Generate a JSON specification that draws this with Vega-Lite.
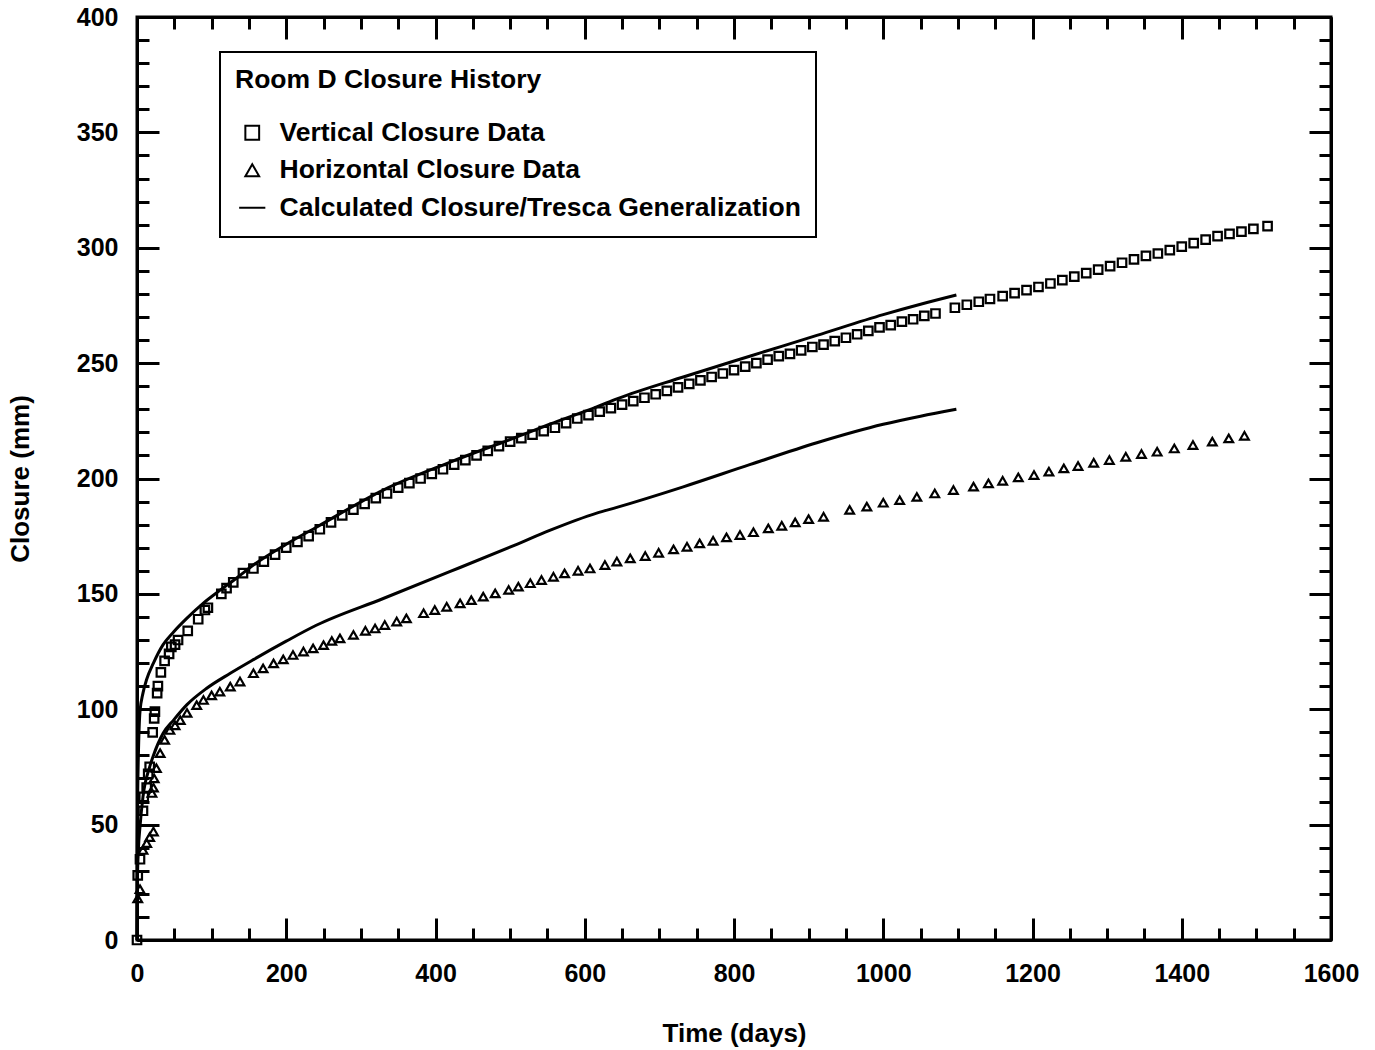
{
  "$schema": "https://vega.github.io/schema/vega-lite/v6.json",
  "width": 1194,
  "height": 923,
  "autosize": "none",
  "padding": {"left": 137, "top": 17, "right": 44, "bottom": 110},
  "background": "white",
  "config": {
    "font": "Liberation Sans",
    "view": {"stroke": "black", "strokeWidth": 3},
    "axis": {
      "domainColor": "black", "domainWidth": 3, "tickColor": "black", "tickWidth": 3,
      "labelColor": "black", "labelFontSize": 25, "labelFontWeight": "bold", "labelFont": "Liberation Sans",
      "titleColor": "black", "titleFontSize": 26, "titleFontWeight": "bold", "titleFont": "Liberation Sans",
      "grid": false
    },
    "legend": {
      "strokeColor": "black", "strokeWidth": 2, "fillColor": "white", "padding": 15,
      "titleFont": "Liberation Sans", "titleFontSize": 26.5, "titleFontWeight": "bold", "titleColor": "black", "titlePadding": 26, "titleLimit": 0,
      "labelFont": "Liberation Sans", "labelFontSize": 26.5, "labelFontWeight": "bold", "labelColor": "black", "labelLimit": 0,
      "symbolSize": 190, "symbolStrokeWidth": 2, "symbolStrokeColor": "black", "symbolOffset": 4, "labelOffset": 14, "rowPadding": 10.5
    }
  },
  "datasets": {
    "vertical": [
      {"day":0,"closure":0},{"day":1,"closure":28},{"day":4,"closure":35},{"day":8,"closure":56},{"day":9,"closure":62},{"day":13,"closure":66},{"day":15,"closure":72},{"day":17,"closure":75},{"day":21,"closure":90},{"day":23,"closure":96},{"day":24,"closure":99},{"day":27,"closure":107},{"day":28,"closure":110},{"day":32,"closure":116},{"day":37,"closure":121},{"day":43,"closure":124},{"day":46,"closure":127},{"day":51,"closure":128},{"day":55,"closure":130},{"day":68,"closure":134},{"day":82,"closure":139},{"day":91,"closure":143},{"day":95,"closure":144},{"day":113,"closure":150},{"day":120,"closure":152.5},{"day":129,"closure":155},{"day":142,"closure":159},{"day":156,"closure":161},
      {"day":170,"closure":164},{"day":185,"closure":167},{"day":200,"closure":170},{"day":215,"closure":172.5},{"day":230,"closure":175},{"day":245,"closure":178},{"day":260,"closure":181},{"day":275,"closure":184},{"day":290,"closure":186.5},{"day":305,"closure":189},{"day":320,"closure":191.5},{"day":335,"closure":193.5},{"day":350,"closure":196},{"day":365,"closure":198},{"day":380,"closure":200},{"day":395,"closure":202},{"day":410,"closure":204},{"day":425,"closure":206},{"day":440,"closure":208},{"day":455,"closure":210},{"day":470,"closure":212},{"day":485,"closure":214},{"day":500,"closure":216},{"day":515,"closure":217.5},{"day":530,"closure":219},{"day":545,"closure":220.5},{"day":560,"closure":222},{"day":575,"closure":224},{"day":590,"closure":226},{"day":605,"closure":227.5},{"day":620,"closure":229},{"day":635,"closure":230.5},{"day":650,"closure":232},{"day":665,"closure":233.5},{"day":680,"closure":235},{"day":695,"closure":236.5},{"day":710,"closure":238},{"day":725,"closure":239.5},{"day":740,"closure":241},{"day":755,"closure":242.5},{"day":770,"closure":244},{"day":785,"closure":245.5},{"day":800,"closure":247},{"day":815,"closure":248.5},{"day":830,"closure":250},{"day":845,"closure":251.5},{"day":860,"closure":253},{"day":875,"closure":254},{"day":890,"closure":255.5},{"day":905,"closure":257},{"day":920,"closure":258},{"day":935,"closure":259.5},{"day":950,"closure":261},{"day":965,"closure":262.5},{"day":980,"closure":264},{"day":995,"closure":265.5},{"day":1010,"closure":266.5},{"day":1025,"closure":268},{"day":1040,"closure":269},{"day":1055,"closure":270.5},{"day":1070,"closure":271.5},
      {"day":1096,"closure":274},{"day":1112,"closure":275.3},{"day":1128,"closure":276.6},{"day":1143,"closure":277.8},{"day":1160,"closure":279},{"day":1176,"closure":280.3},{"day":1192,"closure":281.6},{"day":1208,"closure":283},{"day":1224,"closure":284.5},{"day":1240,"closure":286},{"day":1256,"closure":287.5},{"day":1272,"closure":289},{"day":1288,"closure":290.5},{"day":1304,"closure":292},{"day":1320,"closure":293.5},{"day":1336,"closure":295},{"day":1352,"closure":296.5},{"day":1368,"closure":297.5},{"day":1384,"closure":299},{"day":1400,"closure":300.5},{"day":1416,"closure":302},{"day":1432,"closure":303.5},{"day":1448,"closure":305},{"day":1464,"closure":306},{"day":1480,"closure":307},{"day":1496,"closure":308.2},{"day":1515,"closure":309.4}
    ],
    "horizontal": [
      {"day":1,"closure":18},{"day":4,"closure":22},{"day":8,"closure":39},{"day":13,"closure":42},{"day":17,"closure":44.6},{"day":22,"closure":47},{"day":20,"closure":63.7},{"day":22,"closure":66},{"day":23,"closure":70},{"day":26,"closure":74.5},{"day":31,"closure":81},{"day":37,"closure":86.7},{"day":44,"closure":91},{"day":51,"closure":93},{"day":58,"closure":95.3},{"day":67,"closure":98.4},{"day":80,"closure":101.8},{"day":89,"closure":104},{"day":100,"closure":106},{"day":111,"closure":107.6},{"day":125,"closure":109.8},{"day":138,"closure":112},
      {"day":156,"closure":115.6},{"day":169,"closure":117.7},{"day":183,"closure":119.9},{"day":196,"closure":121.6},{"day":209,"closure":123.5},{"day":223,"closure":125},{"day":236,"closure":126.4},{"day":250,"closure":127.8},{"day":261,"closure":129.6},{"day":272,"closure":130.7},{"day":290,"closure":132.2},{"day":306,"closure":134},{"day":319,"closure":135},{"day":332,"closure":136.5},{"day":348,"closure":138},{"day":361,"closure":139.4},
      {"day":384,"closure":141.6},{"day":399,"closure":143},{"day":415,"closure":144.4},{"day":433,"closure":145.9},{"day":448,"closure":147.3},{"day":464,"closure":148.8},{"day":480,"closure":150.2},{"day":498,"closure":151.7},{"day":511,"closure":153.1},{"day":527,"closure":154.6},{"day":542,"closure":156},{"day":558,"closure":157.4},{"day":573,"closure":158.9},{"day":591,"closure":160},{"day":607,"closure":161},{"day":627,"closure":162.5},{"day":643,"closure":164},{"day":661,"closure":165.4},{"day":681,"closure":166.4},{"day":699,"closure":167.8},{"day":719,"closure":169.3},{"day":737,"closure":170.4},{"day":754,"closure":171.9},{"day":772,"closure":173},{"day":790,"closure":174.5},{"day":808,"closure":175.5},{"day":826,"closure":176.7},{"day":846,"closure":178.4},{"day":864,"closure":179.5},{"day":882,"closure":181},{"day":900,"closure":182.4},{"day":920,"closure":183.4},
      {"day":955,"closure":186.4},{"day":978,"closure":187.8},{"day":1000,"closure":189.5},{"day":1022,"closure":190.6},{"day":1045,"closure":192},{"day":1069,"closure":193.5},{"day":1094,"closure":195},{"day":1121,"closure":196.5},{"day":1141,"closure":197.9},{"day":1160,"closure":199},{"day":1181,"closure":200.5},{"day":1202,"closure":201.5},{"day":1222,"closure":203},{"day":1242,"closure":204.4},{"day":1261,"closure":205.4},{"day":1282,"closure":206.8},{"day":1303,"closure":208},{"day":1325,"closure":209.4},{"day":1346,"closure":210.6},{"day":1367,"closure":211.6},{"day":1390,"closure":213},{"day":1415,"closure":214.5},{"day":1441,"closure":216},{"day":1463,"closure":217.4},{"day":1484,"closure":218.5}
    ],
    "calculated": [
      {"curve":"vertical","day":0,"closure":0},{"curve":"vertical","day":0.3,"closure":40},{"curve":"vertical","day":1,"closure":65},{"curve":"vertical","day":2,"closure":82},{"curve":"vertical","day":4,"closure":99},{"curve":"vertical","day":8,"closure":107},{"curve":"vertical","day":13,"closure":113},{"curve":"vertical","day":22,"closure":120},{"curve":"vertical","day":35,"closure":128},{"curve":"vertical","day":49,"closure":133.5},{"curve":"vertical","day":67,"closure":139.5},{"curve":"vertical","day":89,"closure":146},{"curve":"vertical","day":111,"closure":151.5},{"curve":"vertical","day":134,"closure":157},{"curve":"vertical","day":156,"closure":162.5},{"curve":"vertical","day":200,"closure":171.5},{"curve":"vertical","day":241,"closure":179},{"curve":"vertical","day":330,"closure":195},{"curve":"vertical","day":419,"closure":207},{"curve":"vertical","day":509,"closure":218},{"curve":"vertical","day":553,"closure":223.5},{"curve":"vertical","day":616,"closure":231},{"curve":"vertical","day":643,"closure":234.5},{"curve":"vertical","day":732,"closure":244},{"curve":"vertical","day":821,"closure":253},{"curve":"vertical","day":911,"closure":262},{"curve":"vertical","day":1000,"closure":271},{"curve":"vertical","day":1050,"closure":275.5},{"curve":"vertical","day":1098,"closure":279.5},
      {"curve":"horizontal","day":0,"closure":0},{"curve":"horizontal","day":0.5,"closure":25},{"curve":"horizontal","day":2,"closure":40},{"curve":"horizontal","day":4,"closure":49},{"curve":"horizontal","day":8,"closure":62},{"curve":"horizontal","day":17,"closure":75},{"curve":"horizontal","day":22,"closure":80},{"curve":"horizontal","day":35,"closure":89.6},{"curve":"horizontal","day":49,"closure":95.3},{"curve":"horizontal","day":67,"closure":102},{"curve":"horizontal","day":93,"closure":109},{"curve":"horizontal","day":125,"closure":115.6},{"curve":"horizontal","day":156,"closure":121.5},{"curve":"horizontal","day":200,"closure":129.5},{"curve":"horizontal","day":241,"closure":136.5},{"curve":"horizontal","day":330,"closure":148},{"curve":"horizontal","day":419,"closure":159.6},{"curve":"horizontal","day":509,"closure":171.5},{"curve":"horizontal","day":553,"closure":177.5},{"curve":"horizontal","day":616,"closure":185},{"curve":"horizontal","day":643,"closure":187.5},{"curve":"horizontal","day":732,"closure":196.4},{"curve":"horizontal","day":821,"closure":206},{"curve":"horizontal","day":911,"closure":215.5},{"curve":"horizontal","day":1000,"closure":223.5},{"curve":"horizontal","day":1050,"closure":227},{"curve":"horizontal","day":1098,"closure":230}
    ]
  },
  "layer": [
    {
      "data": {"name": "vertical"},
      "mark": {"type": "point", "filled": false, "color": "black", "strokeWidth": 2.2, "size": 72, "opacity": 1},
      "encoding": {
        "x": {"field": "day", "type": "quantitative", "scale": {"domain": [0, 1600], "nice": false, "zero": true},
          "axis": {"orient": "bottom", "title": "Time (days)", "values": [0,50,100,150,200,250,300,350,400,450,500,550,600,650,700,750,800,850,900,950,1000,1050,1100,1150,1200,1250,1300,1350,1400,1450,1500,1550,1600],
            "labelExpr": "datum.value % 200 === 0 ? format(datum.value, 'd') : ''", "labelPadding": 43, "titlePadding": 24,
            "tickSize": {"condition": {"test": "datum.value % 200 === 0", "value": -22}, "value": -12}, "labelFlush": false, "labelOverlap": false}},
        "y": {"field": "closure", "type": "quantitative", "scale": {"domain": [0, 400], "nice": false},
          "axis": {"orient": "left", "title": "Closure (mm)", "values": [0,10,20,30,40,50,60,70,80,90,100,110,120,130,140,150,160,170,180,190,200,210,220,230,240,250,260,270,280,290,300,310,320,330,340,350,360,370,380,390,400],
            "labelExpr": "datum.value % 50 === 0 ? datum.label : ''", "labelPadding": 41, "titlePadding": 43,
            "tickSize": {"condition": {"test": "datum.value % 50 === 0", "value": -22}, "value": -12}, "labelFlush": false, "labelOverlap": false}},
        "shape": {"datum": "Vertical Closure Data", "type": "nominal",
          "scale": {"domain": ["Vertical Closure Data", "Horizontal Closure Data", "Calculated Closure/Tresca Generalization"], "range": ["square", "triangle-up", "M-1.9,0L1.9,0"]},
          "legend": {"title": "Room D Closure History", "orient": "none", "legendX": 83, "legendY": 35}}
      }
    },
    {
      "data": {"name": "horizontal"},
      "mark": {"type": "point", "filled": false, "color": "black", "strokeWidth": 2.2, "size": 75, "opacity": 1},
      "encoding": {
        "x": {"field": "day", "type": "quantitative",
          "axis": {"orient": "top", "title": null, "labels": false, "values": [0,50,100,150,200,250,300,350,400,450,500,550,600,650,700,750,800,850,900,950,1000,1050,1100,1150,1200,1250,1300,1350,1400,1450,1500,1550,1600],
            "tickSize": {"condition": {"test": "datum.value % 200 === 0", "value": -22}, "value": -12}}},
        "y": {"field": "closure", "type": "quantitative",
          "axis": {"orient": "right", "title": null, "labels": false, "values": [0,10,20,30,40,50,60,70,80,90,100,110,120,130,140,150,160,170,180,190,200,210,220,230,240,250,260,270,280,290,300,310,320,330,340,350,360,370,380,390,400],
            "tickSize": {"condition": {"test": "datum.value % 50 === 0", "value": -22}, "value": -12}}},
        "shape": {"datum": "Horizontal Closure Data", "type": "nominal"}
      }
    },
    {
      "data": {"name": "calculated"},
      "mark": {"type": "line", "color": "black", "strokeWidth": 3, "interpolate": "monotone"},
      "encoding": {
        "x": {"field": "day", "type": "quantitative", "axis": null},
        "y": {"field": "closure", "type": "quantitative", "axis": null},
        "detail": {"field": "curve", "type": "nominal"}
      }
    }
  ],
  "resolve": {"axis": {"x": "independent", "y": "independent"}}
}
